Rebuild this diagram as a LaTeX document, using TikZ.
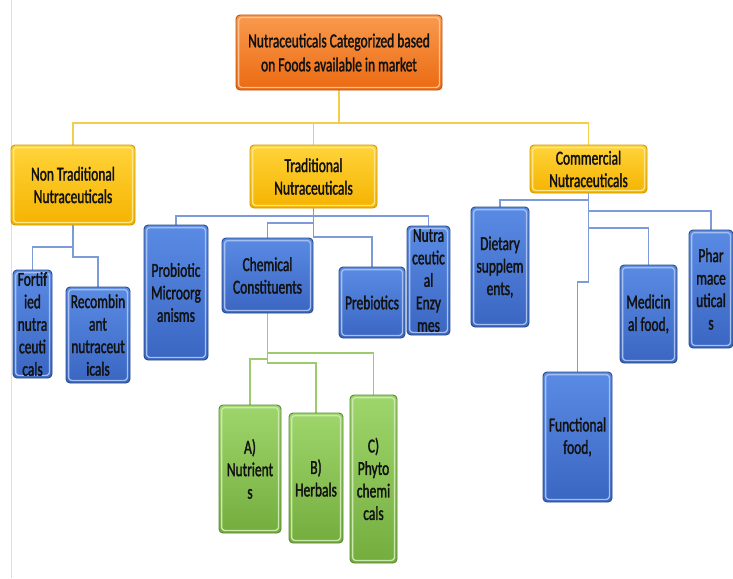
\documentclass[tikz,border=0pt]{standalone}
\usepackage{fontspec}
\setmainfont{Carlito}[FakeStretch=0.68,FakeBold=1.6]
\usetikzlibrary{calc,backgrounds}
\definecolor{txt}{HTML}{121212}
\definecolor{orT}{HTML}{F89A4E}\definecolor{orB}{HTML}{EC6A12}\definecolor{orD}{HTML}{BF520C}
\definecolor{yeT}{HTML}{FFD43A}\definecolor{yeB}{HTML}{F5B300}\definecolor{yeD}{HTML}{CF9A00}
\definecolor{blT}{HTML}{5A8BE4}\definecolor{blB}{HTML}{3A66C2}\definecolor{blD}{HTML}{2A4A88}
\definecolor{grT}{HTML}{9FD66C}\definecolor{grB}{HTML}{74AD3E}\definecolor{grD}{HTML}{588833}
\definecolor{yln}{HTML}{F3CD4E}\definecolor{bln}{HTML}{7C9BD8}\definecolor{gln}{HTML}{9CCB6C}
\tikzset{
  boxbase/.style={rounded corners=4pt, line width=0.9pt, inner sep=0pt, align=center,
    text=txt, font=\fontsize{19.8}{22.5}\selectfont},
  rim/.style={path picture={\draw[#1, line width=1.3pt, rounded corners=3pt]
    ([shift={(2.6pt,-2.6pt)}]path picture bounding box.north west) rectangle
    ([shift={(-2.6pt,2.6pt)}]path picture bounding box.south east);}},
  obox/.style={boxbase, draw=orD, top color=orT, bottom color=orB, rim=orT!60!white},
  ybox/.style={boxbase, draw=yeD, top color=yeT, bottom color=yeB, rim=yeT!60!white},
  bbox/.style={boxbase, draw=blD, top color=blT, bottom color=blB, rim=blT!55!white},
  gbox/.style={boxbase, draw=grD, top color=grT, bottom color=grB, rim=grT!55!white},
  yl/.style={draw=yln, line width=1.7pt},
  bl/.style={draw=bln, line width=1.7pt},
  gl/.style={draw=gln, line width=1.7pt},
}
\begin{document}
\begin{tikzpicture}[x=1pt,y=-1pt]
\useasboundingbox (0,0) rectangle (733,578);
% levels
\coordinate (ylev) at (0,123);
\coordinate (ntA) at (0,247);
\coordinate (ntB) at (0,257);
\coordinate (trA) at (0,216);
\coordinate (trB) at (0,223);
\coordinate (trC) at (0,237);
\coordinate (chA) at (0,353);
\coordinate (chB) at (0,359);
\coordinate (chC) at (0,363);
\coordinate (cmA) at (0,200);
\coordinate (cmB) at (0,211);
\coordinate (cmC) at (0,228);
\coordinate (cmD) at (0,282);
\path
 node[obox, minimum width=206, minimum height=75, font=\fontsize{19.8}{24}\selectfont] (top) at (339,52.5)
   {Nutraceuticals Categorized based\\on Foods available in market}
 node[ybox, minimum width=124, minimum height=80] (nontrad) at (73,185)
   {Non Traditional\\Nutraceuticals}
 node[ybox, minimum width=127, minimum height=63] (trad) at (313.5,176.5)
   {Traditional\\Nutraceuticals}
 node[ybox, minimum width=117, minimum height=48] (comm) at (588.5,169)
   {Commercial\\Nutraceuticals}
 node[bbox, minimum width=39, minimum height=108] (fort) at (32.5,324)
   {Fortif\\ied\\nutra\\ceuti\\cals}
 node[bbox, minimum width=64, minimum height=96] (recomb) at (98,335)
   {Recombin\\ant\\nutraceut\\icals}
 node[bbox, minimum width=64, minimum height=135] (prob) at (176,292.5)
   {Probiotic\\Microorg\\anisms}
 node[bbox, minimum width=91, minimum height=75] (chem) at (267.5,275.5)
   {Chemical\\Constituents}
 node[bbox, minimum width=66, minimum height=71] (preb) at (372,302.5)
   {Prebiotics}
 node[bbox, minimum width=43, minimum height=109] (enz) at (428.5,280.5)
   {Nutra\\ceutic\\al\\Enzy\\mes}
 node[gbox, minimum width=62, minimum height=128] (nutr) at (250,469)
   {A)\\Nutrient\\s}
 node[gbox, minimum width=54, minimum height=130] (herb) at (316,478)
   {B)\\Herbals}
 node[gbox, minimum width=47, minimum height=168] (phyto) at (373.5,479)
   {C)\\Phyto\\chemi\\cals}
 node[bbox, minimum width=58, minimum height=120] (diet) at (500,267)
   {Dietary\\supplem\\ents,}
 node[bbox, minimum width=57, minimum height=98] (medic) at (648.5,314)
   {Medicin\\al food,}
 node[bbox, minimum width=44, minimum height=118] (pharm) at (711,289)
   {Phar\\mace\\utical\\s}
 node[bbox, minimum width=69, minimum height=130] (func) at (577.5,437)
   {Functional\\food,};
\begin{scope}[on background layer]
\fill[white] (0,0) rectangle (733,578);
\draw[gray!25, line width=1pt] (11,0) -- (11,578);
% top level
\draw[yl] (top.south) -- (top.south |- ylev) -| (nontrad.north);
\draw[yl] (top.south |- ylev) -| (trad.north);
\draw[yl] (top.south |- ylev) -| (comm.north);
% non traditional
\draw[bl] (nontrad.south) -- (nontrad.south |- ntA) -| (fort.north);
\draw[bl] (nontrad.south) -- (nontrad.south |- ntB) -| (recomb.north);
% traditional
\draw[bl] (trad.south) -- (trad.south |- trA) -| (prob.north);
\draw[bl] (trad.south |- trA) -| (enz.north);
\draw[bl] (trad.south) -- (trad.south |- trB) -| (chem.north);
\draw[bl] (trad.south) -- (trad.south |- trC) -| (preb.north);
% chemical
\draw[gl] (chem.south) -- (chem.south |- chA) -| (phyto.north);
\draw[gl] (chem.south) -- (chem.south |- chB) -| (nutr.north);
\draw[gl] (chem.south) -- (chem.south |- chC) -| (herb.north);
% commercial
\draw[bl] (comm.south) -- (comm.south |- cmA) -| (diet.north);
\draw[bl] (comm.south) -- (comm.south |- cmB) -| (pharm.north);
\draw[bl] (comm.south) -- (comm.south |- cmC) -| (medic.north);
\draw[bl] (comm.south) -- (comm.south |- cmD) -| (func.north);
\end{scope}
\end{tikzpicture}
\end{document}
